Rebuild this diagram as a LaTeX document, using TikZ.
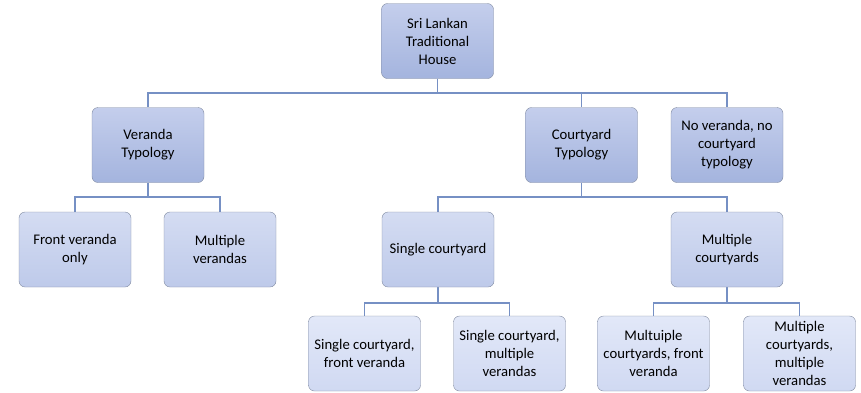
\documentclass[tikz,border=0pt]{standalone}
\usepackage{fontspec}
\setmainfont{Carlito}
\usetikzlibrary{backgrounds}
\definecolor{boxline}{RGB}{128,138,160}
\definecolor{linkblue}{RGB}{118,144,196}
\definecolor{darktop}{RGB}{196,206,236}
\definecolor{darkbot}{RGB}{164,180,222}
\definecolor{midtop}{RGB}{212,220,242}
\definecolor{midbot}{RGB}{190,202,234}
\definecolor{lighttop}{RGB}{226,232,248}
\definecolor{lightbot}{RGB}{208,217,242}

\begin{document}
\begin{tikzpicture}[
    x=1pt, y=-1pt,
    box/.style={rectangle, draw=boxline, rounded corners=6pt, minimum width=112pt, minimum height=75pt, align=center, font=\fontsize{14.7}{18}\selectfont},
    lvlone/.style={box, top color=darktop, bottom color=darkbot},
    lvltwo/.style={box, top color=midtop, bottom color=midbot},
    lvlthree/.style={box, top color=lighttop, bottom color=lightbot},
    link/.style={draw=linkblue, line width=1.3pt}
]
    \useasboundingbox (0,0) rectangle (861,392);

    \node[lvlone] (house)     at (437.5,41)  {Sri Lankan\\Traditional\\House};

    \node[lvlone] (veranda)   at (148,145)   {Veranda\\Typology};
    \node[lvlone] (courtyard) at (581.5,145) {Courtyard\\Typology};
    \node[lvlone] (noboth)    at (727,145)   {No veranda, no\\courtyard\\typology};

    \node[lvltwo] (frontonly) at (75,249.5)  {Front veranda\\only};
    \node[lvltwo] (multver)   at (220,249.5) {Multiple\\verandas};
    \node[lvltwo] (singlec)   at (438,249.5) {Single courtyard};
    \node[lvltwo] (multc)     at (727,249.5) {Multiple\\courtyards};

    \node[lvlthree] (scfront) at (364.5,353.5) {Single courtyard,\\front veranda};
    \node[lvlthree] (scmult)  at (509.5,353.5) {Single courtyard,\\multiple\\verandas};
    \node[lvlthree] (mcfront) at (653.5,353.5) {Multuiple\\courtyards, front\\veranda};
    \node[lvlthree] (mcmult)  at (799.5,353.5) {Multiple\\courtyards,\\multiple\\verandas};

    \coordinate (busA) at (0,93);
    \coordinate (busB) at (0,197);
    \coordinate (busC) at (0,303);

    \begin{scope}[on background layer]
    \draw[link] (house.south) -- (house.south |- busA) -| (veranda.north);
    \draw[link] (house.south |- busA) -| (courtyard.north);
    \draw[link] (house.south |- busA) -| (noboth.north);

    \draw[link] (veranda.south) -- (veranda.south |- busB) -| (frontonly.north);
    \draw[link] (veranda.south |- busB) -| (multver.north);

    \draw[link] (courtyard.south) -- (courtyard.south |- busB) -| (singlec.north);
    \draw[link] (courtyard.south |- busB) -| (multc.north);

    \draw[link] (singlec.south) -- (singlec.south |- busC) -| (scfront.north);
    \draw[link] (singlec.south |- busC) -| (scmult.north);

    \draw[link] (multc.south) -- (multc.south |- busC) -| (mcfront.north);
    \draw[link] (multc.south |- busC) -| (mcmult.north);
    \end{scope}
\end{tikzpicture}
\end{document}
